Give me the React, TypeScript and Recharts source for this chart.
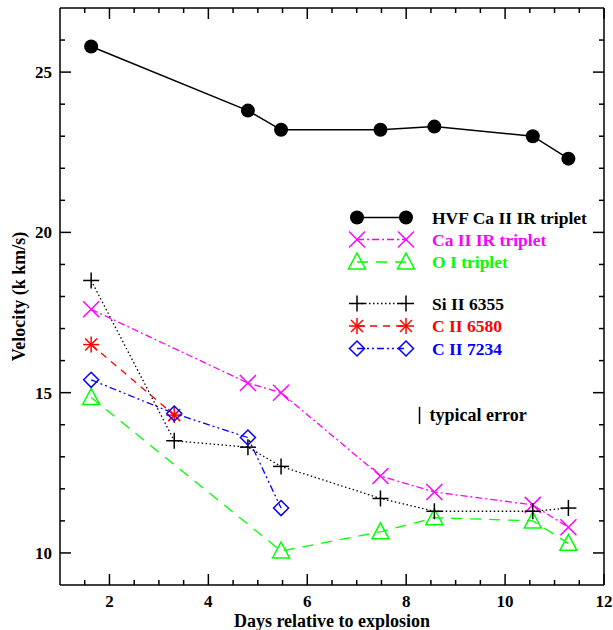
import { LineChart, Line, XAxis, YAxis, Legend, ReferenceLine } from 'recharts';

// epochs (days relative to explosion) shared by all spectral features
const days = [1.63, 3.31, 4.8, 5.47, 7.48, 8.57, 10.56, 11.28];

// velocities in 1000 km/s, null where the feature was not measured
const hvfCaIR = [25.8, null, 23.8, 23.2, 23.2, 23.3, 23.0, 22.3];
const caIR = [17.6, null, 15.3, 15.0, 12.4, 11.9, 11.5, 10.8];
const oI = [14.85, null, null, 10.06, 10.66, 11.1, 11.0, 10.3];
const siII6355 = [18.5, 13.5, 13.3, 12.7, 11.7, 11.3, 11.3, 11.4];
const cII6580 = [16.5, 14.3, null, null, null, null, null, null];
const cII7234 = [15.4, 14.35, 13.6, 11.4, null, null, null, null];

const xTicks = [1.5, 2, 2.5, 3, 3.5, 4, 4.5, 5, 5.5, 6, 6.5, 7, 7.5, 8, 8.5, 9, 9.5, 10, 10.5, 11, 11.5, 12];
const yTicks = [10, 11, 12, 13, 14, 15, 16, 17, 18, 19, 20, 21, 22, 23, 24, 25, 26];

// typical error bar drawn as a short vertical segment
const errX = 8.27;
const errLow = 14.02;
const errHigh = 14.56;

const FONT = '"Liberation Serif", "Times New Roman", serif';

type MarkerKind = 'circle' | 'cross' | 'triangle' | 'plus' | 'asterisk' | 'diamond';

interface SeriesDef {
  name: string;
  values: (number | null)[];
  color: string;
  dash?: string;
  width: number;
  marker: MarkerKind;
}

const series: SeriesDef[] = [
  { name: 'HVF Ca II IR triplet', values: hvfCaIR, color: '#000000', width: 1.5, marker: 'circle' },
  { name: 'Ca II IR triplet', values: caIR, color: '#ff00ff', dash: '7 3 2 3', width: 1.3, marker: 'cross' },
  { name: 'O I triplet', values: oI, color: '#00ff00', dash: '11 8', width: 1.3, marker: 'triangle' },
  { name: 'Si II 6355', values: siII6355, color: '#000000', dash: '1.5 2.5', width: 1.3, marker: 'plus' },
  { name: 'C II 6580', values: cII6580, color: '#ff0000', dash: '7 6', width: 1.3, marker: 'asterisk' },
  { name: 'C II 7234', values: cII7234, color: '#0000ff', dash: '7 3 2 3 2 3', width: 1.3, marker: 'diamond' },
];

const toPoints = (vals: (number | null)[]) =>
  days.map((d, i) => ({ x: d, v: vals[i] })).filter((p) => p.v !== null);

function Marker({ kind, cx, cy, color }: { kind: MarkerKind; cx: number; cy: number; color: string }) {
  const sw = 1.5;
  switch (kind) {
    case 'circle':
      return <circle cx={cx} cy={cy} r={7} fill={color} />;
    case 'cross':
      return (
        <g stroke={color} strokeWidth={sw}>
          <line x1={cx - 8} y1={cy - 8} x2={cx + 8} y2={cy + 8} />
          <line x1={cx - 8} y1={cy + 8} x2={cx + 8} y2={cy - 8} />
        </g>
      );
    case 'triangle':
      return (
        <polygon
          points={`${cx},${cy - 9} ${cx + 8.5},${cy + 7} ${cx - 8.5},${cy + 7}`}
          fill="none"
          stroke={color}
          strokeWidth={sw}
        />
      );
    case 'plus':
      return (
        <g stroke={color} strokeWidth={sw}>
          <line x1={cx - 8} y1={cy} x2={cx + 8} y2={cy} />
          <line x1={cx} y1={cy - 8} x2={cx} y2={cy + 8} />
        </g>
      );
    case 'asterisk':
      return (
        <g stroke={color} strokeWidth={sw}>
          <line x1={cx - 8} y1={cy} x2={cx + 8} y2={cy} />
          <line x1={cx} y1={cy - 8} x2={cx} y2={cy + 8} />
          <line x1={cx - 6} y1={cy - 6} x2={cx + 6} y2={cy + 6} />
          <line x1={cx - 6} y1={cy + 6} x2={cx + 6} y2={cy - 6} />
        </g>
      );
    case 'diamond':
      return (
        <polygon
          points={`${cx},${cy - 7.5} ${cx + 7.5},${cy} ${cx},${cy + 7.5} ${cx - 7.5},${cy}`}
          fill="none"
          stroke={color}
          strokeWidth={sw}
        />
      );
  }
  return null;
}

function XTick(props: any) {
  const { x, y, payload, dir, showLabel } = props;
  const major = payload.value % 2 === 0;
  const len = major ? 11 : 5;
  return (
    <g>
      <line x1={x} x2={x} y1={y} y2={y + dir * len} stroke="#000" strokeWidth={1.5} />
      {showLabel && major && (
        <text x={x} y={y + 22} textAnchor="middle" fontFamily={FONT} fontWeight="bold" fontSize={17} fill="#000">
          {payload.value}
        </text>
      )}
    </g>
  );
}

function YTick(props: any) {
  const { x, y, payload, dir, showLabel } = props;
  const major = payload.value % 5 === 0;
  const len = major ? 11 : 5;
  return (
    <g>
      <line x1={x} x2={x + dir * len} y1={y} y2={y} stroke="#000" strokeWidth={1.5} />
      {showLabel && major && (
        <text x={x - 8} y={y + 6} textAnchor="end" fontFamily={FONT} fontWeight="bold" fontSize={17} fill="#000">
          {payload.value}
        </text>
      )}
    </g>
  );
}

const legendRows = [17.5, 39.5, 62, 103.5, 126, 148.5];

function LegendBox() {
  return (
    <svg width={270} height={170} style={{ display: 'block' }}>
      {series.map((s, i) => {
        const y = legendRows[i];
        return (
          <g key={s.name}>
            <line x1={17} x2={66} y1={y} y2={y} stroke={s.color} strokeWidth={s.width} strokeDasharray={s.dash} />
            <Marker kind={s.marker} cx={17} cy={y} color={s.color} />
            <Marker kind={s.marker} cx={66} cy={y} color={s.color} />
            <text x={92} y={y + 6} fontFamily={FONT} fontWeight="bold" fontSize={17.5} fill={s.color}>
              {s.name}
            </text>
          </g>
        );
      })}
    </svg>
  );
}

export default function App() {
  return (
    <div style={{ position: 'absolute', left: 0, top: 0 }}>
      <LineChart width={613} height={630} margin={{ top: 7, right: 8, left: 15, bottom: 5 }}>
        <XAxis
          dataKey="x"
          type="number"
          domain={[1, 12]}
          ticks={xTicks}
          interval={0}
          allowDataOverflow
          height={40}
          tickSize={0}
          tickMargin={0}
          tickLine={false}
          axisLine={{ stroke: '#000', strokeWidth: 1.5 }}
          tick={(p: any) => <XTick {...p} dir={-1} showLabel />}
          label={{
            content: (p: any) => (
              <text
                x={p.viewBox.x + p.viewBox.width / 2}
                y={p.viewBox.y + 42}
                textAnchor="middle"
                fontFamily={FONT}
                fontWeight="bold"
                fontSize={18}
                fill="#000"
              >
                Days relative to explosion
              </text>
            ),
          }}
        />
        <XAxis
          xAxisId="top"
          orientation="top"
          dataKey="x"
          type="number"
          domain={[1, 12]}
          ticks={xTicks}
          interval={0}
          allowDataOverflow
          height={1}
          tickSize={0}
          tickMargin={0}
          tickLine={false}
          axisLine={{ stroke: '#000', strokeWidth: 1.5 }}
          tick={(p: any) => <XTick {...p} dir={1} />}
        />
        <YAxis
          type="number"
          domain={[9, 27]}
          ticks={yTicks}
          interval={0}
          allowDataOverflow
          width={45}
          tickSize={0}
          tickMargin={0}
          tickLine={false}
          axisLine={{ stroke: '#000', strokeWidth: 1.5 }}
          tick={(p: any) => <YTick {...p} dir={1} showLabel />}
          label={{
            content: (p: any) => {
              const cy = p.viewBox.y + p.viewBox.height / 2;
              return (
                <text
                  x={19}
                  y={cy}
                  transform={`rotate(-90, 19, ${cy})`}
                  textAnchor="middle"
                  dominantBaseline="central"
                  fontFamily={FONT}
                  fontWeight="bold"
                  fontSize={18}
                  fill="#000"
                >
                  Velocity (k km/s)
                </text>
              );
            },
          }}
        />
        <YAxis
          yAxisId="right"
          orientation="right"
          type="number"
          domain={[9, 27]}
          ticks={yTicks}
          interval={0}
          allowDataOverflow
          width={1}
          tickSize={0}
          tickMargin={0}
          tickLine={false}
          axisLine={{ stroke: '#000', strokeWidth: 1.5 }}
          tick={(p: any) => <YTick {...p} dir={-1} />}
        />
        {series.map((s) => (
          <Line
            key={s.name}
            data={toPoints(s.values)}
            dataKey="v"
            name={s.name}
            stroke={s.color}
            strokeWidth={s.width}
            strokeDasharray={s.dash}
            isAnimationActive={false}
            activeDot={false}
            dot={(p: any) => <Marker key={`${s.name}-${p.index}`} kind={s.marker} cx={p.cx} cy={p.cy} color={s.color} />}
          />
        ))}
        <ReferenceLine
          segment={[
            { x: errX, y: errLow },
            { x: errX, y: errHigh },
          ]}
          stroke="#000"
          strokeWidth={1.5}
          label={{
            content: (p: any) => {
              const vb = p.viewBox || {};
              const x = (vb.x ?? 0) + (vb.width ?? 0) + 10;
              const y = (vb.y ?? 0) + (vb.height ?? 0) / 2 + 6;
              return (
                <text x={x} y={y} fontFamily={FONT} fontWeight="bold" fontSize={18} fill="#000">
                  typical error
                </text>
              );
            },
          }}
        />
        <Legend
          layout="vertical"
          align="center"
          verticalAlign="middle"
          content={() => <LegendBox />}
          wrapperStyle={{ position: 'absolute', left: 340, top: 200, width: 270, height: 170 }}
        />
      </LineChart>
    </div>
  );
}
